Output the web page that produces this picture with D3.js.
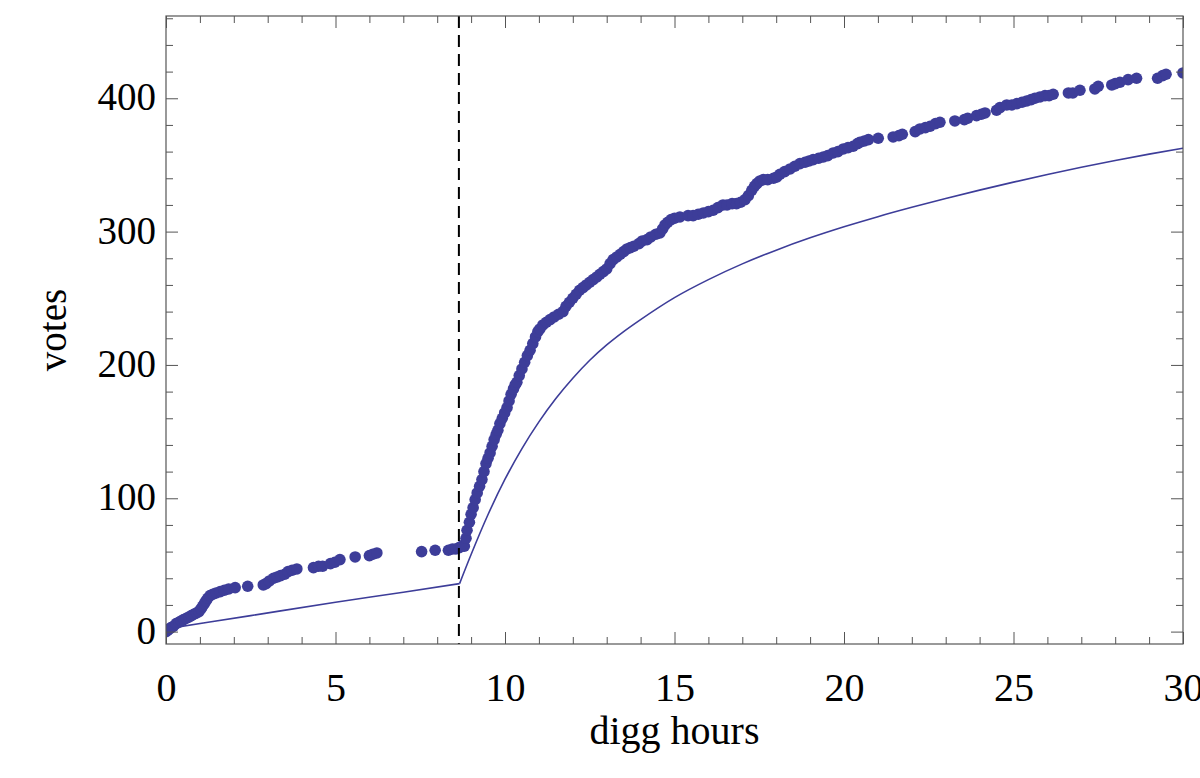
<!DOCTYPE html>
<html>
<head>
<meta charset="utf-8">
<script src="https://cdn.jsdelivr.net/npm/d3@7"></script>
<style>
  html, body { margin: 0; padding: 0; background: #fff; }
  svg { display: block; }
  text { font-family: "Liberation Serif", "DejaVu Serif", serif; fill: #000; }
</style>
</head>
<body>
<svg id="chart" width="1200" height="778"></svg>
<script>
// ---------- data ----------
const voteHours = [
  0.00, 0.05, 0.10, 0.15, 0.22, 0.30, 0.38, 0.45, 0.52, 0.60, 0.68, 0.75, 0.82, 0.90, 0.97,
  1.03, 1.08, 1.13, 1.18, 1.23, 1.30, 1.38, 1.48, 1.60, 1.72, 1.85, 2.04, 2.41, 2.87, 2.95,
  3.05, 3.17, 3.28, 3.38, 3.50, 3.60, 3.72, 3.86, 4.35, 4.50, 4.62, 4.85, 4.98, 5.13, 5.58,
  6.00, 6.10, 6.22, 7.54, 7.94, 8.33, 8.45, 8.55, 8.65, 8.72, 8.78,
  8.80, 8.85, 8.88, 8.95, 9.00, 9.06, 9.12, 9.18, 9.25, 9.32, 9.38, 9.44, 9.50, 9.56, 9.62,
  9.68, 9.74, 9.79, 9.85, 9.92, 9.99, 10.06, 10.12, 10.18, 10.25, 10.30, 10.35, 10.42, 10.50,
  10.58, 10.66, 10.74, 10.82, 10.90, 10.97, 11.03, 11.12, 11.22, 11.33, 11.45, 11.58, 11.71,
  11.80, 11.90, 12.00, 12.10, 12.20, 12.30, 12.40, 12.50, 12.60, 12.71, 12.80, 12.90, 13.00,
  13.10, 13.19, 13.30, 13.40, 13.50, 13.60, 13.70, 13.80, 13.95, 14.05, 14.19, 14.30, 14.45,
  14.57, 14.65, 14.72, 14.80, 14.90, 15.00, 15.16, 15.40, 15.55, 15.70, 15.85, 16.00, 16.14,
  16.28, 16.43, 16.55, 16.70, 16.83, 16.95, 17.08, 17.18, 17.28, 17.36, 17.43, 17.52, 17.62,
  17.75, 17.92, 18.02, 18.11, 18.25, 18.41, 18.55, 18.70, 18.85, 18.97, 19.09, 19.25, 19.39,
  19.52, 19.68, 19.82, 19.98, 20.12, 20.27, 20.40, 20.47, 20.60, 20.72, 21.01, 21.45, 21.62,
  21.72, 22.10, 22.24, 22.40, 22.54, 22.70, 22.83, 23.27, 23.55, 23.65, 23.91, 24.05, 24.16,
  24.50, 24.60, 24.80, 24.95, 25.10, 25.25, 25.39, 25.52, 25.63, 25.78, 25.93, 26.05, 26.17,
  26.62, 26.75, 26.96, 27.40, 27.50, 27.90, 28.00, 28.14, 28.38, 28.63, 29.25, 29.40, 29.50,
  30.00
];
const voteCounts = [
  0, 1, 2, 3, 4, 6, 7, 8, 9, 10, 11, 12, 13, 14, 15,
  17, 19, 21, 23, 25, 27, 28, 29, 30, 31, 32, 33, 34, 35, 36,
  38, 40, 41, 42, 43, 45, 46, 47, 48, 49, 49, 51, 52, 54, 56,
  57, 58, 59, 60, 61, 61, 62, 62, 63, 64, 65,
  64, 70, 76, 82, 88, 93, 99, 104, 109, 114, 120, 126, 130, 134, 139,
  144, 148, 151, 156, 160, 164, 168, 173, 178, 182, 185, 187, 192, 197,
  202, 207, 211, 216, 221, 225, 227, 230, 232, 234, 236, 238, 240,
  244, 247, 250, 253, 256, 258, 260, 262, 264, 266, 268, 270, 272,
  276, 279, 281, 283, 285, 287, 288, 289, 291, 293, 294, 296, 298,
  299, 302, 305, 307, 309, 310, 311, 312, 312, 313, 314, 315, 316,
  318, 320, 320, 321, 321, 322, 324, 327, 331, 334, 336, 338, 339,
  339, 340, 341, 343, 345, 347, 349, 351, 352, 353, 354, 355, 356,
  357, 359, 360, 362, 363, 364, 366, 367, 368, 369, 370, 371, 372,
  373, 375, 377, 378, 379, 381, 382, 383, 384, 385, 387, 388, 389,
  391, 393, 395, 395, 396, 397, 398, 399, 400, 401, 402, 402, 403,
  404, 404, 406, 407, 409, 410, 411, 412, 414, 415, 415, 417, 418,
  419
];
// model curve: straight part before the switch, curved part after
const fitHoursBefore = [0, 2.5, 5, 7, 8.66];
const fitVotesBefore = [2, 12, 22, 29.5, 36];
const fitHoursAfter = [8.66, 9.0, 9.5, 10.0, 10.5, 11.0, 11.5, 12.0, 12.5, 13.0, 13.5, 14.0,
  15.0, 16.0, 17.0, 18.0, 19.0, 20.0, 21.0, 22.0, 23.0, 24.0, 25.0, 26.0, 27.0, 28.0, 29.0, 30.0];
const fitVotesAfter = [36, 57.8, 87.8, 114.3, 137.3, 157.3, 174.8, 190, 203.5, 215, 225, 234,
  250.5, 264, 275.8, 286.1, 295.3, 303.6, 311.2, 318.2, 324.8, 331.1, 337.1, 342.8, 348.2, 353.3, 358.1, 362.6];
const switchHour = 8.64;
const xMajorTicks = [0, 5, 10, 15, 20, 25, 30];
const yMajorTicks = [0, 100, 200, 300, 400];
const xTitle = "digg hours";
const yTitle = "votes";

// ---------- drawing ----------
const svg = d3.select("#chart");
const x = d3.scaleLinear().domain([0, 30]).range([166, 1183]);
const y = d3.scaleLinear().domain([-9.3, 461.7]).range([644, 16]);
const col = "rgb(61,61,153)";
const frameCol = "#555";

const x0 = x.range()[0], x1 = x.range()[1];
const y0 = y.range()[0], y1 = y.range()[1];

const plot = svg.append("g");
plot.append("clipPath").attr("id", "clip")
  .append("rect").attr("x", x0).attr("y", y1).attr("width", x1 - x0).attr("height", y0 - y1);

// fitted model line
const line = d3.line().x(d => x(d[0])).y(d => y(d[1])).curve(d3.curveMonotoneX);
[[fitHoursBefore, fitVotesBefore], [fitHoursAfter, fitVotesAfter]].forEach(([hs, vs]) => {
  plot.append("path").datum(hs.map((h, i) => [h, vs[i]])).attr("d", line)
    .attr("fill", "none").attr("stroke", col).attr("stroke-width", 1.6)
    .attr("clip-path", "url(#clip)");
});

// vote dots
const dots = voteHours.map((h, i) => [h, voteCounts[i]]);
plot.append("g").attr("clip-path", "url(#clip)")
  .selectAll("circle").data(dots).join("circle")
  .attr("cx", d => x(d[0])).attr("cy", d => y(d[1])).attr("r", 5.8)
  .attr("fill", col);

// dashed switch line
plot.append("line")
  .attr("x1", x(switchHour)).attr("x2", x(switchHour))
  .attr("y1", y1).attr("y2", y0)
  .attr("stroke", "#000").attr("stroke-width", 2).attr("stroke-dasharray", "12,7");

// axes (ticks inward, mirrored on all four sides)
const xMinor = d3.range(0, 31, 1);
const yMinor = d3.range(0, 461, 20);
function styleAxis(g) {
  g.select(".domain").remove();
  g.selectAll(".tick line").attr("stroke", frameCol).attr("stroke-width", 1);
}
function makeAx(axisFn, scale, minor, major, withLabels, translate) {
  const gMinor = svg.append("g").attr("transform", translate)
    .call(axisFn(scale).tickValues(minor.filter(v => !major.includes(v))).tickSize(-7).tickFormat(""));
  styleAxis(gMinor);
  const gMajor = svg.append("g").attr("transform", translate)
    .call(axisFn(scale).tickValues(major).tickSize(-12)
      .tickFormat(withLabels ? d3.format("d") : ""));
  styleAxis(gMajor);
  return gMajor;
}
const gx = makeAx(d3.axisBottom, x, xMinor, xMajorTicks, true, `translate(0,${y0})`);
gx.selectAll(".tick text").attr("font-size", 40).attr("y", 57).attr("dy", null)
  .style("font-family", '"Liberation Serif", serif').attr("fill", "#000");
makeAx(d3.axisTop, x, xMinor, xMajorTicks, false, `translate(0,${y1})`);
const gy = makeAx(d3.axisLeft, y, yMinor, yMajorTicks, true, `translate(${x0},0)`);
gy.selectAll(".tick text").attr("font-size", 39).attr("x", -10).attr("dy", "0.3em")
  .style("font-family", '"Liberation Serif", serif').attr("fill", "#000");
makeAx(d3.axisRight, y, yMinor, yMajorTicks, false, `translate(${x1},0)`);

// frame
svg.append("rect").attr("x", x0).attr("y", y1).attr("width", x1 - x0).attr("height", y0 - y1)
  .attr("fill", "none").attr("stroke", frameCol).attr("stroke-width", 1.2);

// titles
svg.append("text").attr("x", (x0 + x1) / 2).attr("y", 744).attr("text-anchor", "middle")
  .attr("font-size", 40).text(xTitle);
svg.append("text").attr("transform", `translate(66,${(y0 + y1) / 2}) rotate(-90)`)
  .attr("text-anchor", "middle").attr("font-size", 39).text(yTitle);
</script>
</body>
</html>
